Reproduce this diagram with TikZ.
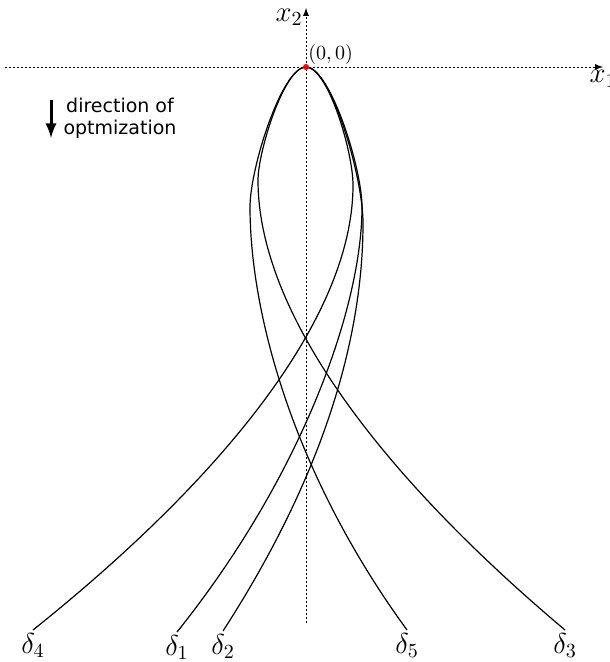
\documentclass[tikz,border=0pt]{standalone}
\usepackage{fontspec}
\newfontfamily\labelfont{DejaVu Sans}
\usepackage{amsmath}
\usetikzlibrary{arrows}
\tikzset{
  axis/.style = {black, dash pattern=on 1pt off 1pt, ->, >=latex},
  curve/.style = {black, line width=.6pt},
  lab/.style = {font=\Large, inner sep=1.5pt},
}

\begin{document}
\begin{tikzpicture}[x=.5pt, y=-.5pt]
    \useasboundingbox (0,0) rectangle (609,662);
    \coordinate (O) at (306,67);
    % axes
    \draw[axis] (5,67) -- (603,67) node[below, lab] (x1) {$x_1$};
    \draw[axis] (306,623) -- (306,8) node[left, yshift=-4.5pt, lab] (x2) {$x_2$};
    % the five curves
    \draw[curve] (O) .. controls (328,67) and (353,152) .. (353,185)
        .. controls (353,315) and (228,474) .. (33,630) node[below, lab] (d4) {$\delta_4$};
    \draw[curve] (O) .. controls (330,67) and (362,168) .. (362,207)
        .. controls (362,307) and (302,476) .. (177,632) node[below, lab] (d1) {$\delta_1$};
    \draw[curve] (O) .. controls (331,67) and (363,177) .. (363,223)
        .. controls (363,323) and (333,461) .. (223,631) node[below, lab] (d2) {$\delta_2$};
    \draw[curve] (O) .. controls (282,67) and (250,168) .. (250,207)
        .. controls (250,307) and (289,468) .. (407,630) node[below, lab] (d5) {$\delta_5$};
    \draw[curve] (O) .. controls (284,67) and (258,152) .. (258,180)
        .. controls (258,310) and (375,470) .. (565,630) node[below, lab] (d3) {$\delta_3$};
    % origin
    \fill[red] (O) circle (1.5pt);
    \node[above right, inner sep=1pt] (o) at (O) {$(0,0)$};
    % direction of optimization
    \draw[black, line width=1.5pt, ->, >=latex] (51,100) -- (51,138);
    \node[align=center, font=\labelfont\fontsize{9.5}{11}\selectfont] (dir) at (120,118) {direction of\\optmization};
\end{tikzpicture}
\end{document}
